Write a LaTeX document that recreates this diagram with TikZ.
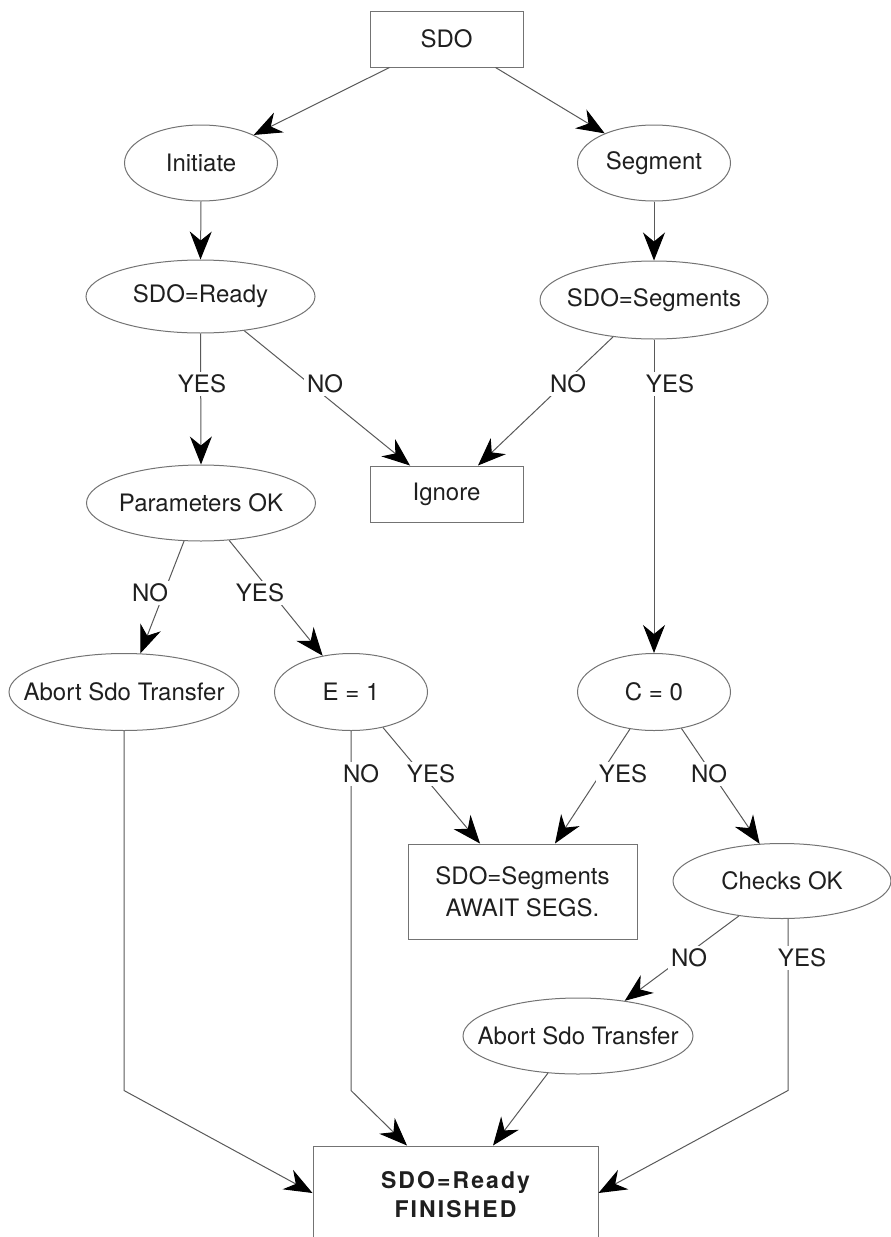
\documentclass[tikz,border=0pt]{standalone}
\usepackage{fontspec}
\setmainfont{TeX Gyre Heros}
\newfontfamily\widebold[LetterSpace=9]{TeX Gyre Heros}
\usetikzlibrary{arrows.meta,shapes.geometric}

\begin{document}
\begin{tikzpicture}[x=1pt,y=-1pt,
  every node/.style={font=\fontsize{24}{32}\selectfont, text=black!88},
  oval/.style={ellipse, draw=black!55, line width=1pt, inner xsep=-30pt, inner ysep=0pt},
  box/.style={rectangle, draw=black!55, line width=1pt, inner sep=0pt, align=center},
  flow/.style={draw=black!65, line width=1pt,
    -{Stealth[length=28pt,width=22pt,inset=9pt,color=black,fill=black]}},
  lbl/.style={fill=white, inner sep=3pt},
]
\useasboundingbox (0,0) rectangle (891,1237);
\clip (0,0) rectangle (891,1237);

% states
\node[box, minimum width=153pt, minimum height=56pt] (sdo) at (446.5,39) {SDO};
\node[oval, minimum width=153pt, minimum height=76pt] (init) at (201,163) {Initiate};
\node[oval, minimum width=153pt, minimum height=76pt] (seg) at (654,163) {Segment};
\node[oval, minimum width=229pt, minimum height=73pt] (rdy) at (200.5,296.5) {SDO=Ready};
\node[oval, minimum width=228pt, minimum height=78pt] (segs) at (654,300) {SDO=Segments};
\node[oval, minimum width=229pt, minimum height=76pt] (par) at (201,503) {Parameters OK};
\node[box, minimum width=153pt, minimum height=56pt] (ign) at (446.5,494) {Ignore};
\node[oval, minimum width=230pt, minimum height=77pt] (ab1) at (124,692) {Abort Sdo Transfer};
\node[oval, minimum width=153pt, minimum height=77pt] (e1) at (351,692) {E = 1};
\node[oval, minimum width=153pt, minimum height=77pt] (c0) at (654,692) {C = 0};
\node[box, minimum width=229pt, minimum height=95pt] (await) at (522.5,891.5) {SDO=Segments\\AWAIT SEGS.};
\node[oval, minimum width=218pt, minimum height=75pt] (chk) at (782,881) {Checks OK};
\node[oval, minimum width=230pt, minimum height=76pt] (ab2) at (578,1036) {Abort Sdo Transfer};
\node[box, minimum width=285pt, minimum height=98pt,
      font=\widebold\bfseries\fontsize{23}{29}\selectfont] (fin) at (455.5,1195) {SDO=Ready\\FINISHED};

% transitions
\draw[flow] ([xshift=-57pt]sdo.south) -- (init.28);
\draw[flow] ([xshift=49pt]sdo.south) -- (seg.149);
\draw[flow] (init.south) -- (rdy.north);
\draw[flow] (seg.south) -- (segs.north);
\draw[flow] (rdy.south) -- (par.north);
\draw[flow] (rdy.-38) -- ([xshift=-36.5pt]ign.north);
\draw[flow] (segs.-138) -- ([xshift=31.5pt]ign.north);
\draw[flow] (segs.south) -- (c0.north);
\draw[flow] (par.-114) -- (ab1.67);
\draw[flow] (par.-53) -- (e1.128);
\draw[flow] (e1.-48) -- ([xshift=-42.5pt]await.north);
\draw[flow] (c0.-123) -- ([xshift=32.5pt]await.north);
\draw[flow] (c0.-53) -- (chk.121);
\draw[flow] (chk.-141) -- (ab2.37);
\draw[flow] (ab1.south) -- ++(0,359.5) -- ([yshift=2pt]fin.west);
\draw[flow] (e1.south) -- ++(0,359.5) -- ([xshift=-48.5pt]fin.north);
\draw[flow] (ab2.-129) -- ([xshift=37.5pt]fin.north);
\draw[flow] ([xshift=6pt]chk.south) -- ++(0,171.5) -- ([yshift=2pt]fin.east);

% branch labels
\node[lbl] (l1) at (202,384) {YES};
\node[lbl] (l2) at (325,384) {NO};
\node[lbl] (l3) at (568,384) {NO};
\node[lbl] (l4) at (670,384) {YES};
\node[lbl] (l5) at (150,593) {NO};
\node[lbl] (l6) at (260,593) {YES};
\node[lbl] (l7) at (361,774) {NO};
\node[lbl] (l8) at (431,774) {YES};
\node[lbl] (l9) at (623,774) {YES};
\node[lbl] (l10) at (709,774) {NO};
\node[lbl] (l11) at (689,958) {NO};
\node[lbl] (l12) at (802,958) {YES};
\end{tikzpicture}
\end{document}
